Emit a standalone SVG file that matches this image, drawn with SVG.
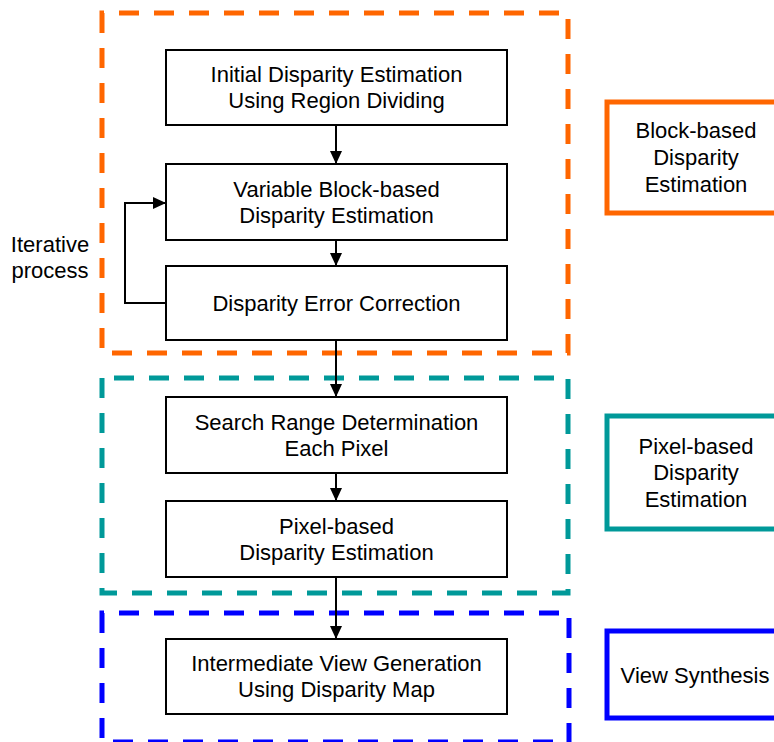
<svg xmlns="http://www.w3.org/2000/svg" width="774" height="742" viewBox="0 0 774 742">
<style>
.box{fill:#fff;stroke:#000;stroke-width:2}
.t{font-family:"Liberation Sans",Arial,sans-serif;font-size:22px;fill:#000;text-anchor:middle}
.conn{fill:none;stroke:#000;stroke-width:2}
.dash{fill:none;stroke-width:5;stroke-dasharray:20 15}
.lab{fill:#fff;stroke-width:5}
</style>
<defs>
<marker id="ah" markerUnits="userSpaceOnUse" markerWidth="13" markerHeight="12" refX="13" refY="6" orient="auto">
<path d="M0,0 L13,6 L0,12 Z" fill="#000"/>
</marker>
</defs>
<rect width="774" height="742" fill="#fff"/>
<g id="regions">
<path class="dash" stroke="#FF6600" d="M102,13 V353 H568 V13 Z"/>
<path class="dash" stroke="#009999" d="M102,378 V593 H568 V378 Z"/>
<path class="dash" stroke="#0000FF" d="M102,613 V742 H569 V613 Z"/>
</g>
<g id="connectors">
<line class="conn" x1="336" y1="125" x2="336" y2="164" marker-end="url(#ah)"/>
<line class="conn" x1="336" y1="240" x2="336" y2="266" marker-end="url(#ah)"/>
<line class="conn" x1="336" y1="340" x2="336" y2="397" marker-end="url(#ah)"/>
<line class="conn" x1="336" y1="473" x2="336" y2="501" marker-end="url(#ah)"/>
<line class="conn" x1="336" y1="577" x2="336" y2="639" marker-end="url(#ah)"/>
<path class="conn" d="M166,303 H125 V203 H166" marker-end="url(#ah)"/>
</g>
<g id="n1"><rect class="box" x="166" y="50" width="341" height="75"/>
<text class="t" x="336.5" y="82">Initial Disparity Estimation</text>
<text class="t" x="336.5" y="108">Using Region Dividing</text></g>
<g id="n2"><rect class="box" x="166" y="164" width="341" height="76"/>
<text class="t" x="336.5" y="196.5">Variable Block-based</text>
<text class="t" x="336.5" y="222.5">Disparity Estimation</text></g>
<g id="n3"><rect class="box" x="166" y="266" width="341" height="74"/>
<text class="t" x="336.5" y="310.5">Disparity Error Correction</text></g>
<g id="n4"><rect class="box" x="166" y="397" width="341" height="76"/>
<text class="t" x="336.5" y="430">Search Range Determination</text>
<text class="t" x="336.5" y="456">Each Pixel</text></g>
<g id="n5"><rect class="box" x="166" y="501" width="341" height="76"/>
<text class="t" x="336.5" y="533.5">Pixel-based</text>
<text class="t" x="336.5" y="560">Disparity Estimation</text></g>
<g id="n6"><rect class="box" x="166" y="639" width="341" height="75"/>
<text class="t" x="336.5" y="671">Intermediate View Generation</text>
<text class="t" x="336.5" y="697">Using Disparity Map</text></g>
<g id="iter">
<text class="t" x="50" y="252">Iterative</text>
<text class="t" x="50" y="278">process</text></g>
<g id="l1"><rect class="lab" stroke="#FF6600" x="607" y="102" width="180" height="111"/>
<text class="t" x="696" y="138">Block-based</text>
<text class="t" x="696" y="165">Disparity</text>
<text class="t" x="696" y="192">Estimation</text></g>
<g id="l2"><rect class="lab" stroke="#009999" x="607" y="416" width="180" height="113"/>
<text class="t" x="696" y="454">Pixel-based</text>
<text class="t" x="696" y="480">Disparity</text>
<text class="t" x="696" y="507">Estimation</text></g>
<g id="l3"><rect class="lab" stroke="#0000FF" x="607" y="631" width="180" height="87"/>
<text class="t" x="695" y="683">View Synthesis</text></g>
</svg>
